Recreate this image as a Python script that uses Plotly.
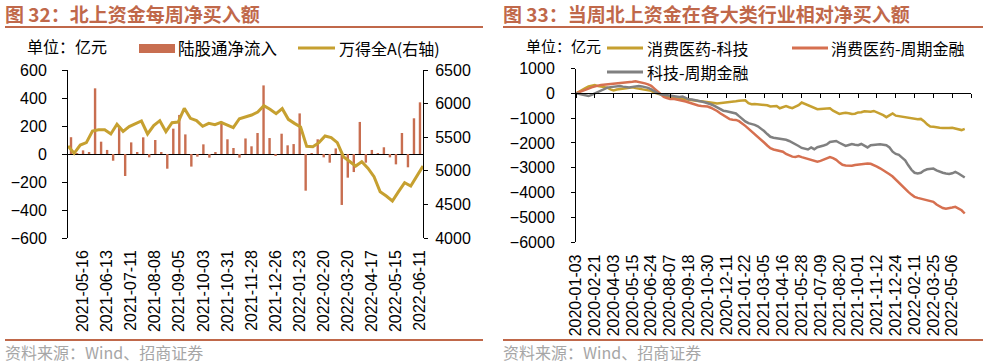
import plotly.graph_objects as go
import pandas as pd

# ---------------- data: left panel (weekly) ----------------
left_dates = [d.strftime("%Y-%m-%d") for d in pd.date_range("2021-05-02", periods=58, freq="7D")] + ["2022-06-11"]
net_inflow = [120, 2, 26, 8, 469, 88, 29, -48, 200, -157, 83, 14, 119, -24, 100, 14, -105, 181, 279, 140,
              -90, -19, 69, -26, 14, 231, 105, 43, -26, 111, 55, 150, 490, 114, -12, 145, 62, 71, 290, -262,
              3, 105, -24, -62, 40, -364, -169, -129, 229, -62, 29, 3, 48, -24, -74, 150, -95, 255, 369]
wind_a = [5369, 5260, 5384, 5419, 5592, 5612, 5612, 5548, 5692, 5587, 5657, 5701, 5741, 5548, 5672, 5746,
          5582, 5716, 5726, 5930, 5781, 5746, 5662, 5706, 5687, 5721, 5682, 5642, 5775, 5806, 5830, 5875,
          5969, 5915, 5850, 5925, 5766, 5706, 5652, 5364, 5359, 5419, 5518, 5493, 5419, 5210, 5146, 5071,
          5136, 5040, 4913, 4689, 4625, 4551, 4689, 4823, 4774, 4913, 5071]
left_tick_labels = left_dates[2::4]

# ---------------- data: right panel (weekly cumulative) ----------------
week_idx = list(range(125))
right_tick_labels = ["2020-01-03", "2020-02-21", "2020-04-03", "2020-05-15", "2020-06-24", "2020-08-07",
                     "2020-09-18", "2020-10-30", "2020-12-11", "2021-01-22", "2021-03-05", "2021-04-16",
                     "2021-05-28", "2021-07-09", "2021-08-20", "2021-10-01", "2021-11-12", "2021-12-24",
                     "2022-02-11", "2022-03-25", "2022-05-06"]
right_tick_pos = list(range(0, 121, 6))
consumer_vs_tech = [0, 60, 140, 210, 280, 320, 330, 290, 270, 250, 230, 160, 120, 150, 160, 180, 200, 220, 240, 210,
                    190, 150, 130, 120, 100, 30, -20, -60, -90, -110, -150, -170, -200, -210, -230, -240, -270, -280, -290, -310,
                    -320, -330, -340, -360, -390, -410, -390, -370, -360, -340, -330, -320, -300, -290, -280, -400, -440, -430, -440, -430,
                    -460, -480, -530, -520, -510, -600, -570, -510, -560, -600, -540, -480, -370, -420, -470, -540, -580, -640, -630, -620,
                    -580, -600, -700, -760, -830, -800, -780, -800, -830, -820, -770, -760, -720, -730, -740, -710, -760, -830, -880, -960,
                    -870, -810, -900, -920, -940, -960, -990, -1000, -1030, -1040, -1030, -1120, -1250, -1340, -1350, -1380, -1390, -1400, -1410, -1400,
                    -1390, -1410, -1440, -1480, -1430]
consumer_vs_cyclical = [0, 40, 100, 140, 190, 240, 290, 310, 340, 350, 370, 380, 390, 400, 410, 430, 440, 460, 470, 490,
                        470, 440, 400, 360, 300, 190, 80, -40, -140, -190, -230, -220, -240, -270, -300, -330, -370, -420, -460, -490,
                        -510, -520, -530, -580, -640, -710, -800, -880, -980, -1040, -1060, -1070, -1120, -1200, -1310, -1420, -1530, -1620, -1740, -1860,
                        -1980, -2100, -2210, -2260, -2290, -2330, -2350, -2440, -2500, -2550, -2560, -2530, -2570, -2610, -2640, -2700, -2720, -2750, -2720, -2680,
                        -2620, -2570, -2610, -2680, -2790, -2880, -2910, -2930, -2920, -2890, -2870, -2860, -2840, -2830, -2840, -2880, -2950, -3020, -3090, -3160,
                        -3260, -3350, -3480, -3600, -3720, -3830, -3970, -4080, -4170, -4210, -4240, -4270, -4300, -4330, -4370, -4480, -4550, -4620, -4650, -4640,
                        -4600, -4570, -4630, -4710, -4840]
tech_vs_cyclical = [0, -30, -70, -90, -110, -60, 0, 60, 130, 180, 230, 250, 270, 280, 290, 270, 250, 240, 260, 280,
                    290, 280, 260, 220, 160, 70, 10, -40, -60, -90, -110, -140, -160, -150, -130, -190, -240, -250, -270, -300,
                    -330, -360, -390, -440, -500, -560, -640, -700, -720, -740, -770, -810, -920, -1040, -1130, -1200, -1230, -1270, -1330, -1420,
                    -1520, -1640, -1750, -1790, -1810, -1830, -1840, -1870, -1920, -1980, -2050, -2120, -2200, -2240, -2260, -2180, -2250, -2170, -2120, -2100,
                    -2060, -1960, -1940, -1920, -1990, -2060, -2120, -2080, -2040, -2070, -2090, -2040, -2100, -2180, -2090, -2070, -2060, -2050, -2070, -2090,
                    -2180, -2350, -2440, -2480, -2590, -2700, -2900, -3080, -3200, -3230, -3200, -3110, -3060, -3030, -3030, -3100, -3160, -3200, -3230, -3250,
                    -3220, -3160, -3230, -3300, -3390]

# ---------------- styles ----------------
W, H = 987, 363
def fx(px):
    return px / W
def fy(py):
    return 1 - py / H

TITLE_C = "#C0684A"
BAR_C = "#C86E50"
GOLD_C = "#C6A030"
RED_C = "#D67050"
GRAY_C = "#808080"
SRC_C = "#A6A6A6"
FONT = "Liberation Sans, Arial, Noto Sans CJK SC"
CJK = "Noto Sans CJK SC, Liberation Sans"

fig = go.Figure()

# left panel
fig.add_trace(go.Bar(x=left_dates, y=net_inflow, xaxis="x", yaxis="y", marker_color=BAR_C,
                     marker_line_width=0, width=0.4, name="陆股通净流入", showlegend=False))
fig.add_trace(go.Scatter(x=left_dates, y=wind_a, xaxis="x2", yaxis="y2", mode="lines",
                         line=dict(color=GOLD_C, width=3), name="万得全A(右轴)", showlegend=False))

# right panel
fig.add_trace(go.Scatter(x=week_idx, y=consumer_vs_tech, xaxis="x3", yaxis="y3", mode="lines",
                         line=dict(color=GOLD_C, width=2.5), name="消费医药-科技", showlegend=False))
fig.add_trace(go.Scatter(x=week_idx, y=consumer_vs_cyclical, xaxis="x3", yaxis="y3", mode="lines",
                         line=dict(color=RED_C, width=2.5), name="消费医药-周期金融", showlegend=False))
fig.add_trace(go.Scatter(x=week_idx, y=tech_vs_cyclical, xaxis="x4", yaxis="y3", mode="lines",
                         line=dict(color=GRAY_C, width=2.5), name="科技-周期金融", showlegend=False))

L_DOM = [fx(68), fx(423)]
L_YDOM = [fy(238), fy(70)]
R_DOM = [fx(576), fx(971)]
R_YDOM = [fy(242.3), fy(68.5)]
tickfont = dict(family=FONT, size=16, color="black")
xtickfont = dict(family=FONT, size=16, color="black")

fig.update_layout(
    template="none",
    width=W, height=H, margin=dict(l=0, r=0, t=0, b=0, autoexpand=False),
    paper_bgcolor="white", plot_bgcolor="white", bargap=0.6,
    font=dict(family=FONT, size=14, color="black"),
    xaxis=dict(domain=L_DOM, anchor="y", type="category", range=[-0.5, 58.5],
               tickvals=left_tick_labels, ticktext=left_tick_labels, tickangle=-90,
               tickfont=xtickfont, showline=False, showgrid=False,
               ticks="", ticklabelstandoff=8, zeroline=False, automargin=False),
    xaxis2=dict(domain=L_DOM, anchor="y", overlaying="x", type="category", range=[0, 58],
                showticklabels=False, showline=False, showgrid=False, ticks="", zeroline=False,
                automargin=False),
    yaxis=dict(domain=L_YDOM, anchor="x", range=[-600, 600], dtick=200, showgrid=False,
               showline=True, linecolor="black", linewidth=1, ticks="outside", ticklen=5,
               tickcolor="black", tickfont=tickfont, ticklabelstandoff=12, automargin=False,
               zeroline=True, zerolinecolor="black", zerolinewidth=1),
    yaxis2=dict(anchor="x", overlaying="y", side="right", range=[4000, 6500], dtick=500,
                showgrid=False, showline=True, linecolor="black", linewidth=1, ticks="outside",
                ticklen=4, tickcolor="black", tickfont=tickfont, ticklabelstandoff=4, zeroline=False,
                automargin=False),
    xaxis3=dict(domain=R_DOM, anchor="y3", range=[0, 126], tickvals=right_tick_pos,
                ticktext=right_tick_labels, tickangle=-90, tickfont=xtickfont,
                showline=False, showgrid=False, ticks="", ticklabelstandoff=8, zeroline=False,
                automargin=False),
    xaxis4=dict(domain=R_DOM, anchor="free", overlaying="x3", position=fy(93.3), range=[0, 126],
                tickvals=list(range(0, 127, 6)), showticklabels=False, showline=True, linecolor="black",
                linewidth=1, ticks="outside", ticklen=4, tickcolor="black", showgrid=False, zeroline=False,
                automargin=False),
    yaxis3=dict(domain=R_YDOM, anchor="x3", range=[-6000, 1000], dtick=1000, showgrid=False,
                showline=True, linecolor="black", linewidth=1, ticks="outside", ticklen=4,
                tickcolor="black", tickfont=tickfont, ticklabelstandoff=13, zeroline=False,
                automargin=False),
)

shapes = []
annotations = []
for x0, x1, title, tx in [(5, 483, "图 32：北上资金每周净买入额", 3), (503, 983, "图 33：当周北上资金在各大类行业相对净买入额", 501)]:
    shapes.append(dict(type="line", xref="paper", yref="paper", x0=fx(x0), x1=fx(x1), y0=fy(27), y1=fy(27),
                       line=dict(color=TITLE_C, width=2)))
    shapes.append(dict(type="line", xref="paper", yref="paper", x0=fx(x0), x1=fx(x1), y0=fy(340), y1=fy(340),
                       line=dict(color=TITLE_C, width=2)))
    annotations.append(dict(text=title, xref="paper", yref="paper", x=fx(tx), y=fy(14), xanchor="left",
                            yanchor="middle", showarrow=False,
                            font=dict(family=CJK, size=19, color=TITLE_C, weight="bold")))
    annotations.append(dict(text="资料来源：Wind、招商证券", xref="paper", yref="paper", x=fx(tx), y=fy(352),
                            xanchor="left", yanchor="middle", showarrow=False,
                            font=dict(family=CJK, size=16, color=SRC_C)))

def legend_text(text, x, y, size=16):
    annotations.append(dict(text=text, xref="paper", yref="paper", x=fx(x), y=fy(y), xanchor="left",
                            yanchor="middle", showarrow=False, font=dict(family=CJK, size=size, color="black")))

def line_swatch(x0, x1, y, color):
    shapes.append(dict(type="line", xref="paper", yref="paper", x0=fx(x0), x1=fx(x1), y0=fy(y), y1=fy(y),
                       line=dict(color=color, width=3)))

# left legend
legend_text("单位：亿元", 25, 46)
shapes.append(dict(type="rect", xref="paper", yref="paper", x0=fx(139), x1=fx(175), y0=fy(53), y1=fy(44),
                   fillcolor=BAR_C, line=dict(width=0)))
legend_text("陆股通净流入", 176, 48, size=16.5)
line_swatch(298, 335, 48, GOLD_C)
legend_text("万得全A(右轴)", 337, 48)

# right legend
legend_text("单位：亿元", 524, 46, size=15)
line_swatch(607, 643, 48, GOLD_C)
legend_text("消费医药-科技", 645, 48)
line_swatch(792, 828, 48, RED_C)
legend_text("消费医药-周期金融", 829, 48)
line_swatch(607, 643, 72, GRAY_C)
legend_text("科技-周期金融", 645, 72)

fig.update_layout(shapes=shapes, annotations=annotations)

fig.write_html("out.html", config={"displayModeBar": False},
               post_script="document.body.style.margin='0';")
